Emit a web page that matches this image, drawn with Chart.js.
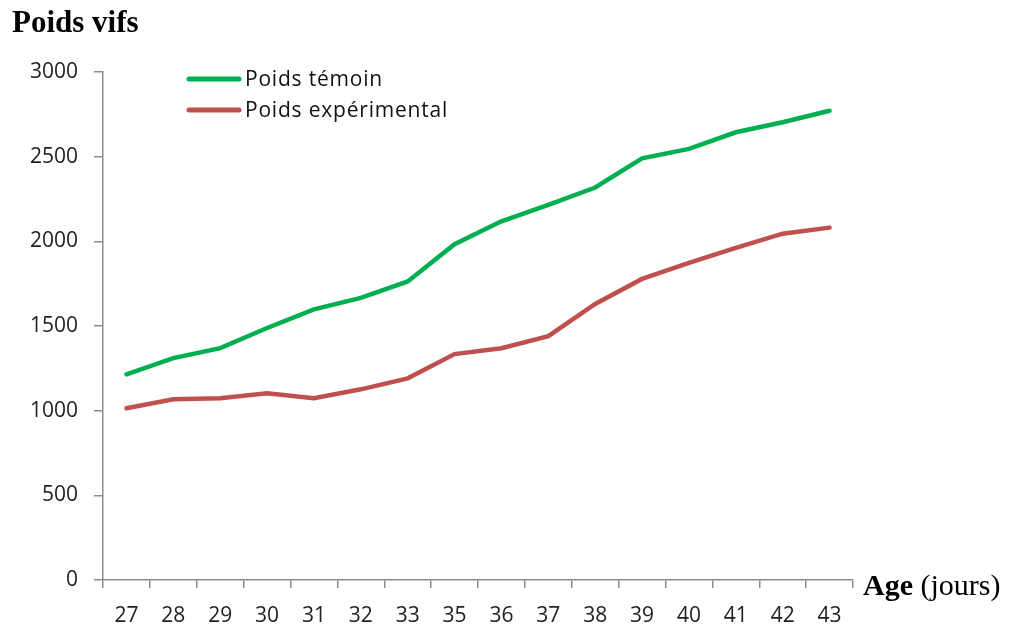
<!DOCTYPE html>
<html>
<head>
<meta charset="utf-8">
<script src="https://cdn.jsdelivr.net/npm/chart.js@4"></script>
<style>
  html, body { margin: 0; padding: 0; background: #fff; }
  #wrap { width: 1020px; height: 630px; position: relative; }
</style>
</head>
<body>
<div id="wrap"><canvas id="chart"></canvas></div>
<script>
// Age (jours) - note: no day 34 in the source
const ages = ['27', '28', '29', '30', '31', '32', '33', '35', '36', '37', '38', '39', '40', '41', '42', '43'];
const poidsTemoin = [1215, 1310, 1369, 1488, 1598, 1666, 1763, 1983, 2118, 2215, 2318, 2490, 2546, 2644, 2703, 2771];
const poidsExperimental = [1014, 1067, 1073, 1103, 1073, 1126, 1191, 1334, 1369, 1440, 1630, 1778, 1873, 1962, 2045, 2081];
const seriesLabels = ['Poids témoin', 'Poids expérimental'];
const seriesColors = ['#00b050', '#c0504d'];

const axisColor = '#8c8c8c';
const tickFont = { family: 'Open Sans', size: 21 };

// title, x axis title and the legend box drawn by hand
const decorPlugin = {
    id: 'decor',
    afterDraw(chart) {
        const ctx = chart.ctx;
        const area = chart.chartArea;
        ctx.save();
        ctx.fillStyle = '#000';
        ctx.textBaseline = 'alphabetic';
        ctx.textAlign = 'left';

        // chart title
        ctx.font = 'bold 31px "Liberation Serif"';
        ctx.fillText('Poids vifs', 12, 32);

        // x axis title, "Age" in bold
        const ax = area.right + 10;
        const ay = area.bottom + 15;
        ctx.font = 'bold 30px "Liberation Serif"';
        ctx.fillText('Age', ax, ay);
        const w = ctx.measureText('Age').width;
        ctx.font = '30px "Liberation Serif"';
        ctx.fillText(' (jours)', ax + w, ay);

        // legend
        chart.data.datasets.forEach((ds, i) => {
            const y = 79 + i * 31;
            ctx.strokeStyle = ds.borderColor;
            ctx.lineWidth = 5;
            ctx.lineCap = 'round';
            ctx.beginPath();
            ctx.moveTo(189, y);
            ctx.lineTo(239, y);
            ctx.stroke();
            ctx.fillStyle = '#111';
            ctx.font = '21px "Open Sans"';
            ctx.letterSpacing = '0.8px';
            ctx.textBaseline = 'middle';
            ctx.fillText(ds.label, 245, y + 1);
        });
        ctx.restore();
    }
};

new Chart(document.getElementById('chart'), {
    type: 'line',
    data: {
        labels: ages,
        datasets: [
            {
                label: seriesLabels[0],
                data: poidsTemoin,
                borderColor: seriesColors[0],
                borderWidth: 4.5,
                pointRadius: 0,
                tension: 0,
                borderCapStyle: 'round',
            },
            {
                label: seriesLabels[1],
                data: poidsExperimental,
                borderColor: seriesColors[1],
                borderWidth: 4.5,
                pointRadius: 0,
                tension: 0,
                borderCapStyle: 'round',
            },
        ],
    },
    options: {
        responsive: true,
        maintainAspectRatio: false,
        animation: false,
        layout: { padding: { top: 72, right: 167, bottom: 0, left: 0 } },
        plugins: {
            legend: { display: false },
            tooltip: { enabled: false },
        },
        scales: {
            x: {
                offset: true,
                grid: {
                    offset: true,
                    drawOnChartArea: false,
                    color: axisColor,
                    lineWidth: 1.5,
                    tickLength: 8,
                },
                border: { color: axisColor, width: 1.5 },
                ticks: { font: tickFont, color: '#222', padding: 15, maxRotation: 0 },
                afterFit: (scale) => { scale.height = 50; },
            },
            y: {
                min: 0,
                max: 3000,
                ticks: {
                    stepSize: 500,
                    font: tickFont,
                    color: '#222',
                    padding: 16,
                    callback: (v) => String(v),
                },
                grid: {
                    drawOnChartArea: false,
                    color: axisColor,
                    lineWidth: 1.5,
                    tickLength: 9,
                },
                border: { color: axisColor, width: 1.5 },
                afterFit: (scale) => { scale.width = 103; },
            },
        },
    },
    plugins: [decorPlugin],
});
</script>
</body>
</html>
